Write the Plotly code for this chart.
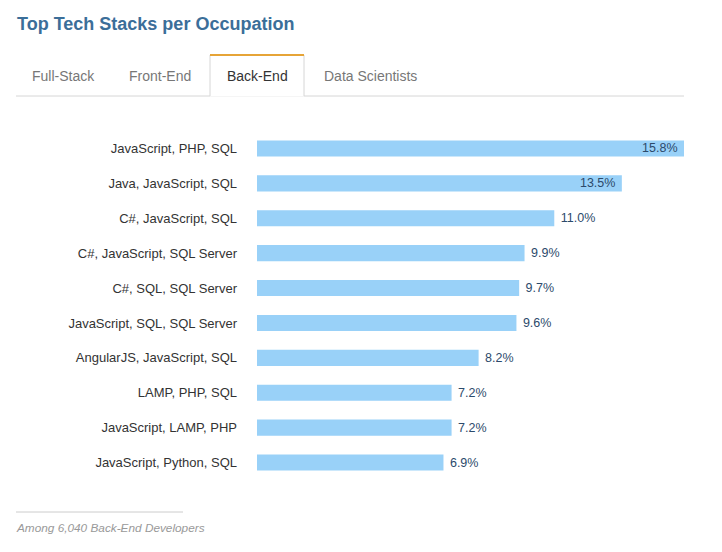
import plotly.graph_objects as go

stacks = ["JavaScript, PHP, SQL", "Java, JavaScript, SQL", "C#, JavaScript, SQL",
          "C#, JavaScript, SQL Server", "C#, SQL, SQL Server", "JavaScript, SQL, SQL Server",
          "AngularJS, JavaScript, SQL", "LAMP, PHP, SQL", "JavaScript, LAMP, PHP",
          "JavaScript, Python, SQL"]
shares = [15.8, 13.5, 11.0, 9.9, 9.7, 9.6, 8.2, 7.2, 7.2, 6.9]
tabs = ["Full-Stack", "Front-End", "Back-End", "Data Scientists"]
tab_centers = [63, 160, 257, 370]
active_tab = "Back-End"

W, H = 722, 552
L, R, T, B = 257, 38, 131, 72
pw, ph = W - L - R, H - T - B

positions = ["inside" if v >= 13 else "outside" for v in shares]
labels = [f"{v:.1f}% " if p == "inside" else f" {v:.1f}%" for v, p in zip(shares, positions)]

fig = go.Figure(go.Bar(
    x=shares, y=stacks, orientation="h",
    marker=dict(color="#99d1f8", line=dict(width=0)),
    width=0.46,
    text=labels,
    textposition=positions,
    insidetextanchor="end",
    textfont=dict(family="Liberation Sans, Arial", size=12.5, color="#2c4a6b"),
    cliponaxis=False,
    hoverinfo="skip",
))

fig.update_layout(
    width=W, height=H,
    margin=dict(l=L, r=R, t=T, b=B),
    paper_bgcolor="white", plot_bgcolor="white",
    showlegend=False,
    uniformtext=dict(minsize=12.5, mode="show"),
    font=dict(family="Liberation Sans, Arial", color="#333"),
    xaxis=dict(range=[0, 15.8], visible=False, fixedrange=True),
    yaxis=dict(autorange="reversed", showgrid=False, zeroline=False, showline=False,
               ticks="", tickfont=dict(size=13, color="#333"), ticklabelstandoff=19,
               fixedrange=True),
)


def fx(x):
    return (x - L) / pw


def fy(y):
    return (H - B - y) / ph


shapes = [
    dict(type="line", xref="paper", yref="paper", x0=fx(16), x1=fx(684), y0=fy(96), y1=fy(96),
         line=dict(color="#d6d6d6", width=1)),
    dict(type="rect", xref="paper", yref="paper", x0=fx(210), x1=fx(304), y0=fy(96.5), y1=fy(55),
         fillcolor="white", line=dict(width=0)),
    dict(type="line", xref="paper", yref="paper", x0=fx(210), x1=fx(210), y0=fy(96), y1=fy(55),
         line=dict(color="#d6d6d6", width=1)),
    dict(type="line", xref="paper", yref="paper", x0=fx(304), x1=fx(304), y0=fy(96), y1=fy(55),
         line=dict(color="#d6d6d6", width=1)),
    dict(type="line", xref="paper", yref="paper", x0=fx(210), x1=fx(304), y0=fy(55), y1=fy(55),
         line=dict(color="#e6a437", width=2)),
    dict(type="line", xref="paper", yref="paper", x0=fx(16), x1=fx(183), y0=fy(512), y1=fy(512),
         line=dict(color="#cccccc", width=1)),
]

annotations = [
    dict(text="<b>Top Tech Stacks per Occupation</b>", xref="paper", yref="paper",
         x=fx(15), y=fy(24), xanchor="left", yanchor="middle", showarrow=False,
         font=dict(family="Liberation Sans, Arial", size=18, color="#3b6e99")),
    dict(text="<i>Among 6,040 Back-End Developers</i>", xref="paper", yref="paper",
         x=fx(14), y=fy(528), xanchor="left", yanchor="middle", showarrow=False,
         font=dict(family="Liberation Sans, Arial", size=11.8, color="#999999")),
]
for name, cx in zip(tabs, tab_centers):
    annotations.append(dict(
        text=name, xref="paper", yref="paper", x=fx(cx), y=fy(76),
        xanchor="center", yanchor="middle", showarrow=False,
        font=dict(family="Liberation Sans, Arial", size=14,
                  color="#333333" if name == active_tab else "#777777")))

fig.update_layout(shapes=shapes, annotations=annotations)
fig.write_html("out.html")
